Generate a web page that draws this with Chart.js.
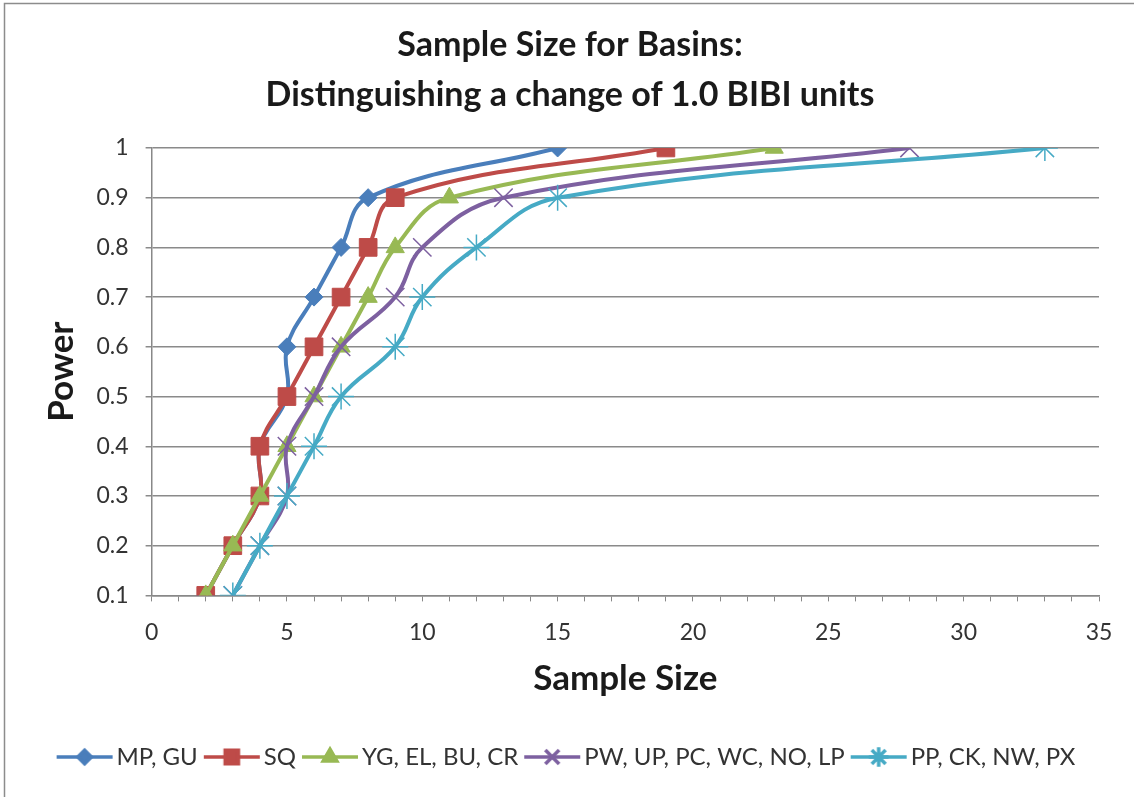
<!DOCTYPE html>
<html>
<head>
<meta charset="utf-8">
<script src="https://cdn.jsdelivr.net/npm/chart.js@4.4.1/dist/chart.umd.min.js"></script>
<style>
  body { margin: 0; background: #fff; }
  #wrap { position: relative; width: 1134px; height: 797px; }
</style>
</head>
<body>
<div id="wrap"><canvas id="powerChart"></canvas></div>
<script>
// Power levels (y) shared by every basin group
const powerLevels = [0.1, 0.2, 0.3, 0.4, 0.5, 0.6, 0.7, 0.8, 0.9, 1.0];

// Sample size needed for each power level, per basin group
const seriesNames = ['MP, GU', 'SQ', 'YG, EL, BU, CR', 'PW, UP, PC, WC, NO, LP', 'PP, CK, NW, PX'];
const mpGu = [2, 3, 4, 4, 5, 5, 6, 7, 8, 15];
const sq = [2, 3, 4, 4, 5, 6, 7, 8, 9, 19];
const ygElBuCr = [2, 3, 4, 5, 6, 7, 8, 9, 11, 23];
const pwUpPcWcNoLp = [3, 4, 5, 5, 6, 7, 9, 10, 13, 28];
const ppCkNwPx = [3, 4, 5, 6, 7, 9, 10, 12, 15, 33];
const seriesValues = [mpGu, sq, ygElBuCr, pwUpPcWcNoLp, ppCkNwPx];

const xTickLabels = [0, 5, 10, 15, 20, 25, 30, 35];

const colors = ['#4a7ebb', '#be4b48', '#98b954', '#7d60a0', '#46aac5'];
const markers = ['rectRot', 'rect', 'triangle', 'crossRot', 'star'];
const markerSize = [9, 12.5, 10.5, 13, 13];
const markerBorder = [1, 1, 1, 1.5, 1.5];

// small line+marker icons for the legend, like the Excel legend
function legendIcon(i) {
    const c = document.createElement('canvas');
    c.width = 58; c.height = 24;
    const g = c.getContext('2d');
    g.strokeStyle = colors[i];
    g.fillStyle = colors[i];
    g.lineWidth = 3.5;
    g.beginPath(); g.moveTo(1, 12); g.lineTo(57, 12); g.stroke();
    Chart.helpers.drawPoint(g, {
        pointStyle: markers[i], radius: markerSize[i] * 0.75, rotation: 0,
        borderWidth: markerBorder[i]
    }, 29, 12);
    return c;
}

const datasets = seriesNames.map((name, i) => ({
    label: name,
    data: seriesValues[i].map((x, k) => ({ x: x, y: powerLevels[k] })),
    borderColor: colors[i],
    backgroundColor: colors[i],
    pointBackgroundColor: colors[i],
    pointBorderColor: colors[i],
    pointStyle: markers[i],
    pointRadius: markerSize[i],
    pointBorderWidth: markerBorder[i],
    borderWidth: 4,
    tension: 0.4,
    fill: false,
    order: seriesNames.length - i // later series painted on top
}));

// white background + the frame line seen on the left and top
const framePlugin = {
    id: 'frame',
    beforeDraw(chart) {
        const ctx = chart.ctx;
        ctx.save();
        ctx.fillStyle = '#fff';
        ctx.fillRect(0, 0, chart.width, chart.height);
        ctx.strokeStyle = '#8c8c8c';
        ctx.lineWidth = 1.5;
        ctx.beginPath();
        ctx.moveTo(4.5, chart.height);
        ctx.lineTo(4.5, 3.5);
        ctx.lineTo(chart.width, 3.5);
        ctx.stroke();
        ctx.restore();
    }
};

const ctx = document.getElementById('powerChart').getContext('2d');
const icons = seriesNames.map((n, i) => legendIcon(i));

new Chart(ctx, {
    type: 'line',
    data: { datasets: datasets },
    plugins: [framePlugin],
    options: {
        responsive: true,
        maintainAspectRatio: false,
        animation: false,
        layout: { padding: { left: 41, right: 35, top: 20, bottom: 18 } },
        plugins: {
            title: {
                display: true,
                text: ['Sample Size for Basins:', 'Distinguishing a change of 1.0 BIBI units'],
                color: '#1a1a1a',
                font: { family: 'Lato', size: 34, weight: 'bold', lineHeight: 1.47 },
                padding: { top: 0, bottom: 28 }
            },
            legend: {
                position: 'bottom',
                labels: {
                    usePointStyle: true,
                    pointStyleWidth: 40,
                    padding: 14,
                    color: '#333',
                    font: { family: 'Lato', size: 24 },
                    generateLabels: chart => chart.data.datasets.map((ds, i) => ({
                        text: ds.label,
                        pointStyle: icons[i],
                        fillStyle: ds.borderColor,
                        strokeStyle: ds.borderColor,
                        lineWidth: 0,
                        hidden: false,
                        datasetIndex: i,
                        fontColor: '#333'
                    }))
                }
            },
            tooltip: { enabled: false }
        },
        scales: {
            x: {
                type: 'linear',
                min: 0,
                max: 35,
                border: { color: '#888', width: 1.5 },
                grid: { drawOnChartArea: false, tickLength: 6, color: '#888' },
                ticks: {
                    stepSize: 1,
                    autoSkip: false,
                    maxRotation: 0,
                    color: '#333',
                    font: { family: 'Lato', size: 23 },
                    padding: 17,
                    callback: v => xTickLabels.includes(v) ? String(v) : ''
                },
                title: {
                    display: true,
                    text: 'Sample Size',
                    color: '#1a1a1a',
                    font: { family: 'Lato', size: 35, weight: 'bold', lineHeight: 0.8 },
                    padding: { top: 2, bottom: 38 }
                }
            },
            y: {
                min: 0.1,
                max: 1,
                border: { color: '#888', width: 1.5 },
                grid: { color: '#8a8a8a', lineWidth: 1.5, tickLength: 6 },
                ticks: {
                    stepSize: 0.1,
                    color: '#333',
                    font: { family: 'Lato', size: 23 },
                    padding: 17,
                    callback: v => String(Number(v.toFixed(1)))
                },
                title: {
                    display: true,
                    text: 'Power',
                    color: '#1a1a1a',
                    font: { family: 'Lato', size: 35, weight: 'bold', lineHeight: 1.0 },
                    padding: { top: 3.5, bottom: 0 }
                }
            }
        }
    }
});
</script>
</body>
</html>
